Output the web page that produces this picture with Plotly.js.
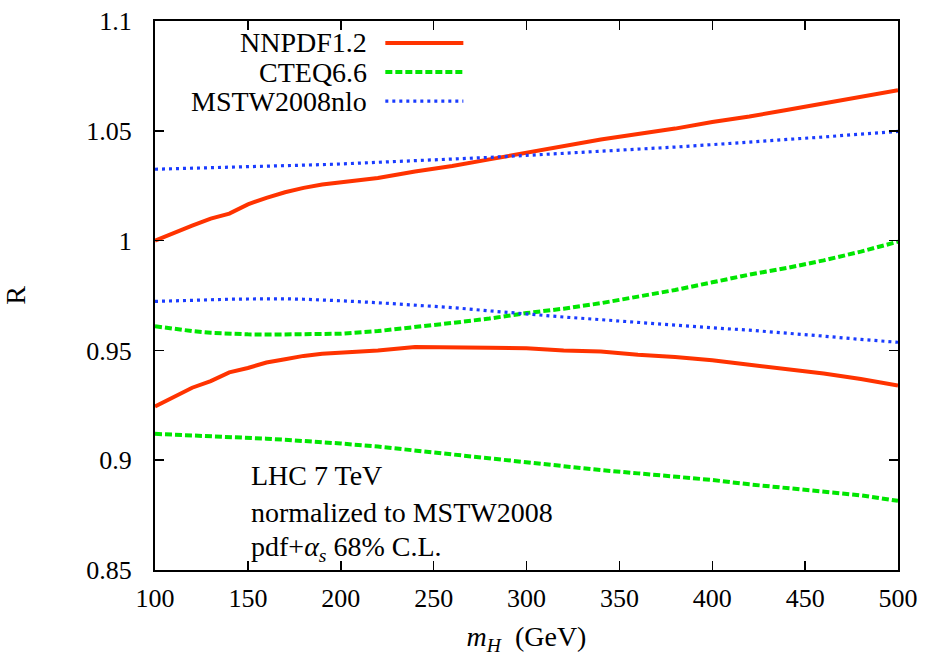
<!DOCTYPE html>
<html>
<head>
<meta charset="utf-8">
<script src="https://cdn.plot.ly/plotly-3.0.1.min.js"></script>
<style>html,body{margin:0;padding:0;background:#fff;}#chart{width:927px;height:656px;}</style>
</head>
<body>
<div id="chart"></div>
<script>
const mH = [100,110,120,130,140,150,160,170,180,190,200,220,240,260,280,300,320,340,360,380,400,420,440,460,480,500];

const nnpdfUpper = [1.0000,1.0036,1.0068,1.0100,1.0123,1.0165,1.0195,1.0220,1.0240,1.0255,1.0265,1.0285,1.0315,1.0340,1.0370,1.0400,1.0430,1.0460,1.0485,1.0510,1.0540,1.0565,1.0595,1.0625,1.0655,1.0685];
const nnpdfLower = [0.9245,0.9290,0.9330,0.9360,0.9400,0.9420,0.9445,0.9460,0.9475,0.9485,0.9490,0.9500,0.9515,0.9515,0.9512,0.9510,0.9500,0.9495,0.9480,0.9470,0.9455,0.9435,0.9415,0.9395,0.9370,0.9340];

const cteqUpper = [0.9610,0.9598,0.9588,0.9580,0.9575,0.9573,0.9572,0.9572,0.9573,0.9574,0.9576,0.9588,0.9605,0.9625,0.9645,0.9670,0.9690,0.9715,0.9745,0.9775,0.9810,0.9845,0.9875,0.9910,0.9950,0.9995];
const cteqLower = [0.9120,0.9117,0.9113,0.9109,0.9105,0.9101,0.9098,0.9093,0.9088,0.9082,0.9076,0.9062,0.9044,0.9026,0.9008,0.8987,0.8972,0.8955,0.8940,0.8926,0.8910,0.8890,0.8873,0.8857,0.8840,0.8815];

const mstwUpper = [1.0325,1.0327,1.0329,1.0331,1.0333,1.0335,1.0337,1.0340,1.0343,1.0346,1.0349,1.0356,1.0363,1.0371,1.0379,1.0388,1.0397,1.0406,1.0416,1.0426,1.0437,1.0448,1.0460,1.0472,1.0485,1.0497];
const mstwLower = [0.9723,0.9726,0.9729,0.9731,0.9733,0.9734,0.9735,0.9735,0.9733,0.9730,0.9726,0.9717,0.9707,0.9695,0.9680,0.9665,0.9652,0.9640,0.9627,0.9615,0.9603,0.9592,0.9580,0.9565,0.9550,0.9537];

const seriesNames = ['NNPDF1.2','CTEQ6.6','MSTW2008nlo'];
const xTicks = [100,150,200,250,300,350,400,450,500];
const yTicks = [0.85,0.9,0.95,1,1.05,1.1];
const yTickText = ['0.85','0.9','0.95','1','1.05','1.1'];

const FONT = "'Liberation Serif', 'DejaVu Serif', serif";
const FS = 26;   // tick labels
const FT = 28;   // legend / annotation text
const red = '#ff3300', green = '#00e600', blue = '#1a3cff';
const styles = [
  {color: red, width: 4, dash: 'solid'},
  {color: green, width: 4, dash: '7px,3px'},
  {color: blue, width: 3.2, dash: '3px,4px'}
];

const traces = [];
function addBand(up, lo, st, name){
  traces.push({x: mH, y: up, type:'scatter', mode:'lines', name:name, line:st, showlegend:false, hoverinfo:'skip'});
  traces.push({x: mH, y: lo, type:'scatter', mode:'lines', name:name, line:st, showlegend:false, hoverinfo:'skip'});
}
addBand(nnpdfUpper, nnpdfLower, styles[0], seriesNames[0]);
addBand(cteqUpper, cteqLower, styles[1], seriesNames[1]);
addBand(mstwUpper, mstwLower, styles[2], seriesNames[2]);

const legY = [0.960, 0.907, 0.854];
const annotations = [];
const shapes = [];
seriesNames.forEach((n,i)=>{
  annotations.push({xref:'paper', yref:'paper', x:0.2885, y:legY[i], xanchor:'right', yanchor:'middle',
    text:n, showarrow:false, font:{family:FONT, size:FT, color:'#000'}});
  shapes.push({type:'line', xref:'paper', yref:'paper', x0:0.310, x1:0.415, y0:legY[i], y1:legY[i],
    line:{color:styles[i].color, width:styles[i].width, dash:styles[i].dash}});
});

const infoLines = ['LHC 7 TeV','normalized to MSTW2008','pdf+<i>α</i><sub><i>s</i></sub> 68% C.L.'];
const infoY = [0.173, 0.104, 0.040];
infoLines.forEach((t,i)=>{
  annotations.push({xref:'paper', yref:'paper', x:0.1265, y:infoY[i], xanchor:'left', yanchor:'middle',
    text:t, showarrow:false, font:{family:FONT, size:FT, color:'#000'}});
});

const layout = {
  width: 927, height: 656,
  margin: {l:155, r:29, t:21, b:86},
  paper_bgcolor:'#fff', plot_bgcolor:'#fff',
  showlegend:false,
  font:{family:FONT, size:FS, color:'#000'},
  xaxis:{
    range:[100,500], tickvals:xTicks, ticktext:xTicks.map(String),
    ticks:'inside', ticklen:9, tickwidth:1.5, tickcolor:'#000',
    showline:true, linecolor:'#000', linewidth:2, mirror:'ticks',
    showgrid:false, zeroline:false,
    tickfont:{family:FONT, size:FS, color:'#000'},
    ticklabelstandoff: 4,
    title:{text:'<i>m</i><sub><i>H</i></sub>  (GeV)', font:{family:FONT, size:FT, color:'#000'}, standoff:16}
  },
  yaxis:{
    range:[0.85,1.1], tickvals:yTicks, ticktext:yTickText,
    ticks:'inside', ticklen:9, tickwidth:1.5, tickcolor:'#000',
    showline:true, linecolor:'#000', linewidth:2, mirror:'ticks',
    showgrid:false, zeroline:false,
    tickfont:{family:FONT, size:FS, color:'#000'},
    ticklabelstandoff: 16,
    title:{text:'R', font:{family:FONT, size:FT, color:'#000'}, standoff:52}
  },
  annotations: annotations,
  shapes: shapes
};

Plotly.newPlot('chart', traces, layout, {staticPlot:true, displayModeBar:false});
</script>
</body>
</html>
